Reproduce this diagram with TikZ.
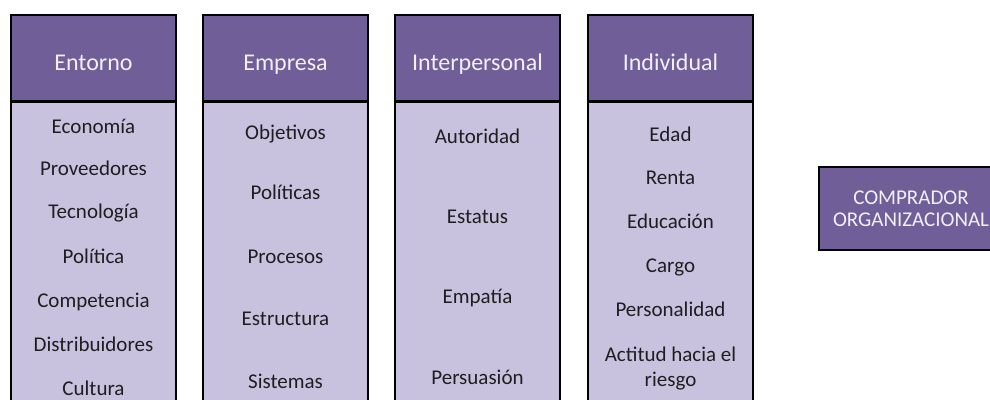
\documentclass[tikz,border=0pt]{standalone}
\usepackage{fontspec}
\setmainfont{Carlito}
\definecolor{headfill}{HTML}{6F5E98}
\definecolor{bodyfill}{HTML}{C9C2DE}
\definecolor{headtext}{HTML}{F2EFF7}
\definecolor{bodytext}{HTML}{1E1E22}
\tikzset{
  headbox/.style={rectangle, draw=black, line width=2.4bp, fill=headfill,
    minimum width=165bp, minimum height=86bp, inner sep=0pt,
    text=headtext, font=\fontsize{24bp}{28bp}\selectfont,
    text height=24bp, text depth=0bp},
  bodybox/.style={rectangle, draw=black, line width=2.4bp, fill=bodyfill,
    minimum width=165bp, minimum height=330bp, inner sep=0pt, anchor=north},
  item/.style={anchor=base, inner sep=0pt, text=bodytext, align=center,
    font=\fontsize{21bp}{25bp}\selectfont},
  buyer/.style={rectangle, draw=black, line width=2.4bp, fill=headfill,
    minimum width=184bp, minimum height=83bp, inner sep=0pt, align=center,
    text=headtext, font=\fontsize{21bp}{22bp}\selectfont}
}
\begin{document}
\begin{tikzpicture}[x=1bp,y=-1bp]
\useasboundingbox (0,0) rectangle (990,399);
\clip (0,0) rectangle (990,399);
% bodies
\node[bodybox] (b1) at (93.5,101) {};
\node[bodybox] (b2) at (285.5,101) {};
\node[bodybox] (b3) at (477.5,101) {};
\node[bodybox] (b4) at (670.5,101) {};
% headers
\node[headbox] (h1) at (93.5,58) {Entorno};
\node[headbox] (h2) at (285.5,58) {Empresa};
\node[headbox] (h3) at (477.5,58) {Interpersonal};
\node[headbox] (h4) at (670.5,58) {Individual};
% column 1
\node[item] (e1) at (93.5,133) {Economía};
\node[item] (e2) at (93.5,175) {Proveedores};
\node[item] (e3) at (93.5,218.5) {Tecnología};
\node[item] (e4) at (93.5,263) {Política};
\node[item] (e5) at (93.5,307) {Competencia};
\node[item] (e6) at (93.5,351.5) {Distribuidores};
\node[item] (e7) at (93.5,395) {Cultura};
% column 2
\node[item] (m1) at (285.5,139) {Objetivos};
\node[item] (m2) at (285.5,199) {Políticas};
\node[item] (m3) at (285.5,263) {Procesos};
\node[item] (m4) at (285.5,325) {Estructura};
\node[item] (m5) at (285.5,388) {Sistemas};
% column 3
\node[item] (p1) at (477.5,143) {Autoridad};
\node[item] (p2) at (477.5,223) {Estatus};
\node[item] (p3) at (477.5,303) {Empatía};
\node[item] (p4) at (477.5,384) {Persuasión};
% column 4
\node[item] (d1) at (670.5,141) {Edad};
\node[item] (d2) at (670.5,184) {Renta};
\node[item] (d3) at (670.5,228) {Educación};
\node[item] (d4) at (670.5,272) {Cargo};
\node[item] (d5) at (670.5,316) {Personalidad};
\node[item] (d6) at (670.5,386) {Actitud hacia el\\riesgo};
% buyer
\node[buyer] (c) at (911,208.5) {COMPRADOR\\ORGANIZACIONAL};
\end{tikzpicture}
\end{document}
